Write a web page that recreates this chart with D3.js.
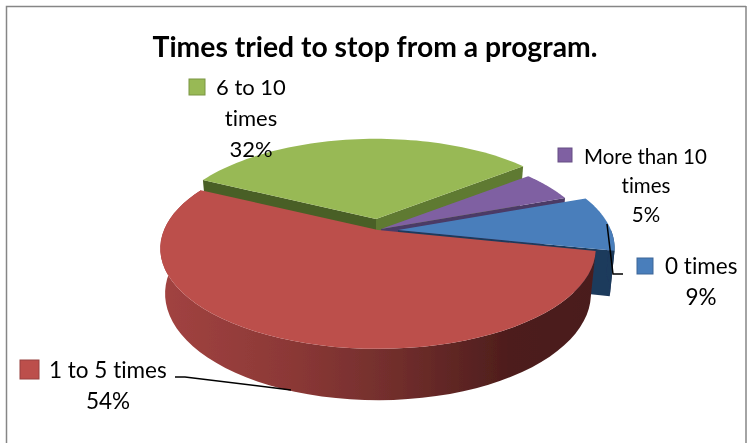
<!DOCTYPE html>
<html><head><meta charset="utf-8">
<style>html,body{margin:0;padding:0;background:#fff}svg{display:block}text{font-family:Lato,"Open Sans",sans-serif;fill:#000;font-variant-ligatures:none;font-feature-settings:"liga" 0,"clig" 0}</style>
<script src="https://d3js.org/d3.v7.min.js"></script></head>
<body><svg id="c" width="747" height="443"></svg>
<script>
const categories = ["0 times","1 to 5 times","6 to 10 times","More than 10 times"];
const values = [9,54,32,5];
const topColors = ["#4a7ebb","#bc4f4c","#98b955","#7f60a2"];
const wallColors = ["#1f3a5c","url(#redWall)","#4a5f26","#4b3a66"];
const title = "Times tried to stop from a program.";

const W=747,H=443, svg=d3.select("#c");
const defs=svg.append("defs");
const g=defs.append("linearGradient").attr("id","redWall").attr("gradientUnits","userSpaceOnUse")
 .attr("x1",160).attr("x2",600).attr("y1",0).attr("y2",0);
[[0,"#a24341"],[0.3,"#8b3836"],[0.55,"#6f2d2b"],[0.8,"#4d1d1c"],[1,"#4a1c1c"]].forEach(s=>g.append("stop").attr("offset",s[0]).attr("stop-color",s[1]));
defs.append("filter").attr("id","soft").append("feGaussianBlur").attr("stdDeviation",0.45);
defs.append("filter").attr("id","softer").append("feGaussianBlur").attr("stdDeviation",0.3);

// frame
svg.append("path").attr("d","M6.5,443V6.5H746").attr("fill","none").attr("stroke","#868686").attr("stroke-width",1.5);
svg.append("path").attr("d","M746,6V443").attr("fill","none").attr("stroke","#868686").attr("stroke-width",1.5);

// pie angles from the data
const deg=d=>d*Math.PI/180;
const arcs=d3.pie().value(d=>d).sort(null).startAngle(deg(69.6)).endAngle(deg(69.6)+2*Math.PI)(values);

// perspective disk projection
const R=214,Ry=97,k=0.184,Depth=44,cx=378,cy=230;
const offsets=[[20,0],[0,0],[-2,-11],[3,-1]];
const radii=[0.995,1,0.975,0.975];
function P(t,r,z,o){
  const X=Math.sin(t)*r,Y=Math.cos(t)*r,f=1/(1+k*Y),s=1-0.022*z;
  return [cx+o[0]+R*X*f*s, cy+o[1]-Ry*Y*f*s+Depth*z/(1+k*Y)];
}
const line=d3.line();
const sweep=(i,a,b,z)=>d3.range(0,61).map(j=>P(a+(b-a)*j/60,radii[i],z,offsets[i]));
const pie=svg.append("g").attr("filter","url(#soft)");

function topFace(i){
  const a=arcs[i],o=offsets[i];
  pie.append("path").attr("d",line([P(0,0,0,o),...sweep(i,a.startAngle,a.endAngle,0)])+"Z").attr("fill",topColors[i]);
}
function radialWall(i,t,color){
  const o=offsets[i],r=radii[i];
  pie.append("path").attr("d",line([P(0,0,0,o),P(t,r,0,o),P(t,r,1,o),P(0,0,1,o)])+"Z").attr("fill",color);
}
function rimWall(i,a,b,color){
  pie.append("path").attr("d",line([...sweep(i,a,b,0),...sweep(i,b,a,1)])+"Z").attr("fill",color);
}
// back to front
radialWall(2,arcs[2].startAngle,wallColors[2]);
radialWall(2,arcs[2].endAngle,"#5f7a30");
topFace(2);
radialWall(3,arcs[3].endAngle,wallColors[3]);
topFace(3);
radialWall(0,arcs[0].endAngle,wallColors[0]);
rimWall(0,deg(90),arcs[0].endAngle,wallColors[0]);
topFace(0);
rimWall(1,arcs[1].startAngle,arcs[1].endAngle,wallColors[1]);
topFace(1);

// leader lines
const leaders=[[[607,224],[613,274],[623,274]],[[175,377],[185,377],[291,390]]];
const soft=svg.append("g").attr("filter","url(#softer)");
leaders.forEach(l=>soft.append("path").attr("d",line(l)).attr("fill","none").attr("stroke","#000").attr("stroke-width",1.5));

// title
soft.append("text").attr("x",375).attr("y",57).attr("text-anchor","middle").attr("font-weight",700).attr("font-size",28.3).text(title);

// labels
const pct=values.map(v=>v+"%");
const labels=[
 {i:0,size:22.5,key:[637,258,16],lines:[[665,274,categories[0],"start"],[701,305,pct[0],"middle"]]},
 {i:1,size:22.5,key:[20,360,19],lines:[[49,378,categories[1],"start"],[108,409,pct[1],"middle"]]},
 {i:2,size:22,key:[189,79,16],lines:[[216,95,"6 to 10","start"],[251,126,"times","middle"],[251,157,pct[2],"middle"]]},
 {i:3,size:20.5,key:[558,148,14],lines:[[584,164,"More than 10","start"],[646,193,"times","middle"],[646,222,pct[3],"middle"]]}
];
labels.forEach(l=>{
  soft.append("rect").attr("x",l.key[0]).attr("y",l.key[1]).attr("width",l.key[2]).attr("height",l.key[2])
   .attr("fill",topColors[l.i]).attr("stroke",d3.color(topColors[l.i]).darker(0.6)).attr("stroke-width",1);
  l.lines.forEach(t=>soft.append("text").attr("x",t[0]).attr("y",t[1]).attr("text-anchor",t[3]).attr("font-size",l.size).text(t[2]));
});
</script></body></html>
